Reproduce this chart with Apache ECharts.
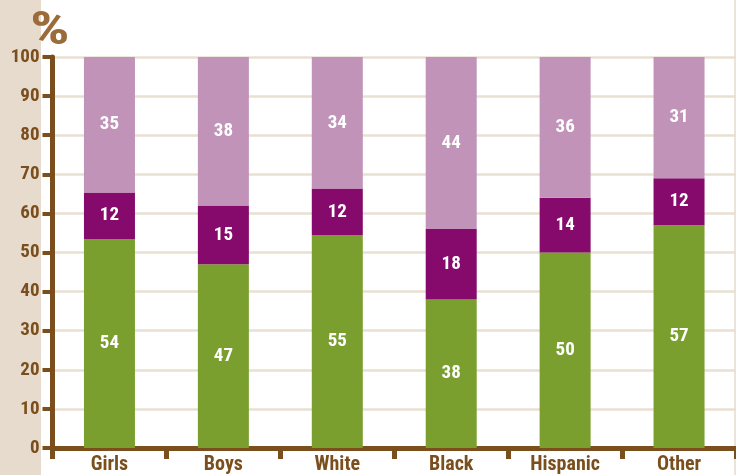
<!DOCTYPE html>
<html>
<head>
<meta charset="utf-8">
<script src="https://cdn.jsdelivr.net/npm/echarts@6/dist/echarts.min.js"></script>
<style>
html,body{margin:0;padding:0;background:#fff;}
#c{width:736px;height:475px;}
</style>
</head>
<body>
<div id="c"></div>
<script>
const categories = ['Girls', 'Boys', 'White', 'Black', 'Hispanic', 'Other'];
const bottomValues = [54, 47, 55, 38, 50, 57];
const middleValues = [12, 15, 12, 18, 14, 12];
const topValues = [35, 38, 34, 44, 36, 31];
const yTicks = [0, 10, 20, 30, 40, 50, 60, 70, 80, 90, 100];

const FONT = '"Roboto Condensed", "DejaVu Sans Condensed", sans-serif';
const BROWN = '#7b4f1d';

const totals = categories.map((_, i) => bottomValues[i] + middleValues[i] + topValues[i]);
const share = arr => arr.map((v, i) => ({ value: v / totals[i] * 100, raw: v }));

function seriesOf(name, arr, color) {
  return {
    name: name,
    type: 'bar',
    stack: 'total',
    barWidth: 51,
    data: share(arr),
    itemStyle: { color: color },
    label: {
      show: true,
      position: 'inside',
      color: '#ffffff',
      fontFamily: FONT,
      fontWeight: 'bold',
      fontSize: 19,
      formatter: p => String(p.data.raw)
    }
  };
}

const chart = echarts.init(document.getElementById('c'), null, { renderer: 'canvas' });
chart.setOption({
  animation: false,
  backgroundColor: '#ffffff',
  graphic: [
    { type: 'rect', z: -10, shape: { x: 0, y: 0, width: 41, height: 475 }, style: { fill: '#e6dbcd' } },
    { type: 'line', z: -10, shape: { x1: 735, y1: 0, x2: 735, y2: 475 }, style: { stroke: '#e6dbcd', lineWidth: 1.5 } },
    { type: 'text', x: 30, y: 9, scaleX: 1.35, style: { text: '%', fill: '#9c6b3a', font: 'bold 46px ' + FONT, verticalAlign: 'top', align: 'left' } }
  ],
  grid: { left: 52.5, top: 57, width: 690, height: 395, containLabel: false },
  xAxis: {
    type: 'category',
    data: categories,
    axisLine: { show: true, lineStyle: { color: BROWN, width: 5 } },
    axisTick: { show: true, length: 11, lineStyle: { color: BROWN, width: 5 } },
    axisLabel: { color: BROWN, fontFamily: FONT, fontWeight: 'bold', fontSize: 20, margin: 7 },
    splitLine: { show: false }
  },
  yAxis: {
    type: 'value',
    min: 0,
    max: 100,
    interval: 10,
    axisLine: { show: true, lineStyle: { color: BROWN, width: 5 } },
    axisTick: { show: true, length: 10, lineStyle: { color: BROWN, width: 4 } },
    axisLabel: {
      color: BROWN, fontFamily: FONT, fontWeight: 'bold', fontSize: 19, margin: 13,
      formatter: v => yTicks.indexOf(v) >= 0 ? String(v) : ''
    },
    splitLine: { show: true, lineStyle: { color: '#e9dfd3', width: 2.5 } }
  },
  series: [
    seriesOf('bottom', bottomValues, '#7a9f2f'),
    seriesOf('middle', middleValues, '#850a6b'),
    seriesOf('top', topValues, '#c193b8')
  ]
});
</script>
</body>
</html>
